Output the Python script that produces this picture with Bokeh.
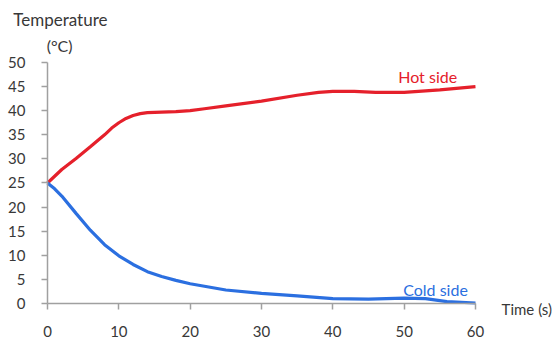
from bokeh.plotting import figure
from bokeh.models import Label, Range1d, FixedTicker
from bokeh.embed import file_html
from bokeh.resources import INLINE

# Data
hot_t = [0, 2, 4, 6, 8, 9, 10, 11, 12, 13, 14, 16, 18, 20, 22, 25, 30, 35, 38, 40, 43, 46, 50, 55, 60]
hot_T = [25, 27.8, 30.1, 32.5, 35, 36.4, 37.5, 38.4, 39.0, 39.4, 39.6, 39.7, 39.8, 40, 40.4, 41, 42, 43.2, 43.8, 44, 44, 43.8, 43.8, 44.3, 45]
cold_t = [0, 1, 2, 4, 6, 8, 10, 12, 14, 16, 18, 20, 25, 30, 35, 40, 45, 50, 53, 56, 60]
cold_T = [25, 23.8, 22.3, 18.7, 15.2, 12.2, 9.9, 8.1, 6.6, 5.6, 4.8, 4.1, 2.8, 2.1, 1.6, 1.0, 0.9, 1.1, 1.0, 0.4, 0.1]
x_ticks = [0, 10, 20, 30, 40, 50, 60]
y_ticks = [0, 5, 10, 15, 20, 25, 30, 35, 40, 45, 50]

FONT = "Lato"
RED = "#e5202b"
BLUE = "#2b6fe0"
GREY = "#383838"

p = figure(width=554, height=346, output_backend="svg", toolbar_location=None,
           x_range=Range1d(-6.59, 71.08), y_range=Range1d(-8.92, 62.86),
           min_border=0)
p.title.visible = False
p.outline_line_color = None
p.xgrid.grid_line_color = None
p.ygrid.grid_line_color = None

for ax in (p.xaxis[0], p.yaxis[0]):
    ax.fixed_location = 0
    ax.axis_line_color = "#a0a0a0"
    ax.axis_line_width = 1.5
    ax.major_tick_line_color = "#a0a0a0"
    ax.major_tick_line_width = 1.5
    ax.major_tick_in = 0
    ax.major_tick_out = 6
    ax.minor_tick_line_color = None
    ax.major_label_text_font = FONT
    ax.major_label_text_font_size = "15px"
    ax.major_label_text_color = GREY
p.xaxis.ticker = FixedTicker(ticks=x_ticks)
p.yaxis.ticker = FixedTicker(ticks=y_ticks)
p.xaxis.bounds = (0, 60)
p.yaxis.bounds = (0, 50)
p.xaxis.major_label_standoff = 16
p.yaxis.major_label_standoff = 16

p.line(hot_t, hot_T, line_color=RED, line_width=3.2)
p.line(cold_t, cold_T, line_color=BLUE, line_width=3.2)

def lab(x, y, text, color, size):
    p.add_layout(Label(x=x, y=y, text=text, text_color=color, text_font=FONT,
                       text_font_size=size, text_align="center", text_baseline="middle"))

lab(53.3, 47.1, "Hot side", RED, "16px")
lab(54.4, 2.9, "Cold side", BLUE, "16px")
lab(67.2, -1.2, "Time (s)", GREY, "15px")
lab(1.8, 58.9, "Temperature", GREY, "17px")
lab(1.7, 53.5, "(°C)", GREY, "16px")

open("out.html", "w").write(file_html(p, INLINE))
